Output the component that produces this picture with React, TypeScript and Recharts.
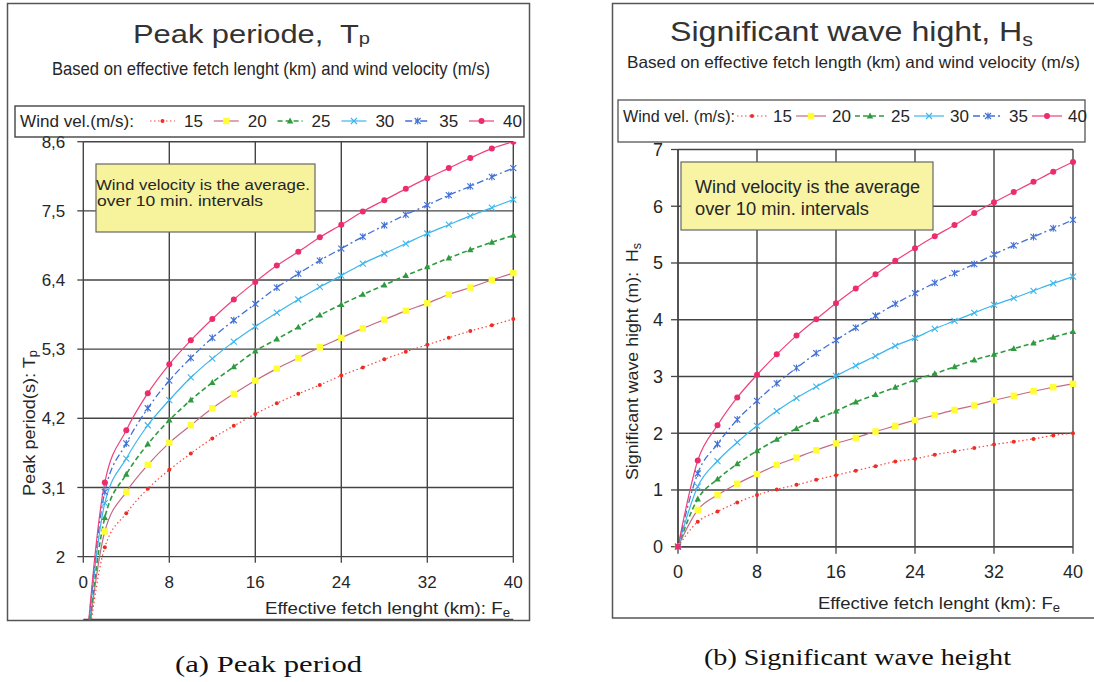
import React from "react";
import { CartesianGrid, Line, LineChart, ReferenceLine, XAxis, YAxis } from "recharts";

// fetch lengths (km) where the curves are sampled, and the wind velocities (m/s)
const FETCH_KM = [0, 2, 4, 6, 8, 10, 12, 14, 16, 18, 20, 22, 24, 26, 28, 30, 32, 34, 36, 38, 40];
const WIND_VELOCITIES = [15, 20, 25, 30, 35, 40];
const FETCH_TICKS = [0, 8, 16, 24, 32, 40];
const PERIOD_TICKS = [2, 3.1, 4.2, 5.3, 6.4, 7.5, 8.6];
const HEIGHT_TICKS = [0, 1, 2, 3, 4, 5, 6, 7];

// peak period Tp (s)
const periodU15 = [0, 2.15, 2.69, 3.08, 3.38, 3.64, 3.88, 4.08, 4.27, 4.44, 4.59, 4.73, 4.88, 5.01, 5.14, 5.26, 5.37, 5.48, 5.59, 5.68, 5.78];
const periodU20 = [0, 2.4, 3.03, 3.46, 3.81, 4.09, 4.36, 4.59, 4.8, 4.99, 5.16, 5.33, 5.48, 5.63, 5.77, 5.91, 6.03, 6.17, 6.28, 6.4, 6.51];
const periodU25 = [0, 2.62, 3.31, 3.79, 4.17, 4.49, 4.77, 5.02, 5.27, 5.46, 5.65, 5.84, 6.01, 6.17, 6.32, 6.47, 6.61, 6.75, 6.88, 7.0, 7.11];
const periodU30 = [0, 2.85, 3.56, 4.09, 4.49, 4.85, 5.15, 5.42, 5.66, 5.88, 6.09, 6.29, 6.47, 6.66, 6.82, 6.98, 7.14, 7.28, 7.42, 7.55, 7.68];
const periodU35 = [0, 3.03, 3.8, 4.36, 4.8, 5.16, 5.48, 5.76, 6.02, 6.28, 6.5, 6.71, 6.9, 7.09, 7.27, 7.44, 7.59, 7.75, 7.89, 8.04, 8.18];
const periodU40 = [0, 3.18, 4.01, 4.6, 5.06, 5.44, 5.78, 6.09, 6.37, 6.63, 6.85, 7.08, 7.28, 7.49, 7.67, 7.85, 8.02, 8.18, 8.34, 8.49, 8.6];

// significant wave height Hs (m)
const heightU15 = [0, 0.44, 0.62, 0.78, 0.91, 1.01, 1.09, 1.18, 1.26, 1.34, 1.42, 1.5, 1.55, 1.62, 1.68, 1.74, 1.8, 1.85, 1.9, 1.96, 2.0];
const heightU20 = [0, 0.65, 0.91, 1.11, 1.28, 1.44, 1.57, 1.7, 1.82, 1.92, 2.03, 2.13, 2.23, 2.32, 2.41, 2.49, 2.58, 2.66, 2.74, 2.81, 2.87];
const heightU25 = [0, 0.84, 1.19, 1.46, 1.69, 1.89, 2.08, 2.24, 2.39, 2.55, 2.68, 2.81, 2.94, 3.05, 3.17, 3.29, 3.39, 3.49, 3.59, 3.69, 3.79];
const heightU30 = [0, 1.06, 1.51, 1.84, 2.13, 2.39, 2.62, 2.82, 3.01, 3.19, 3.36, 3.54, 3.68, 3.84, 3.98, 4.12, 4.26, 4.38, 4.51, 4.64, 4.76];
const heightU35 = [0, 1.29, 1.81, 2.24, 2.57, 2.88, 3.15, 3.41, 3.64, 3.86, 4.07, 4.28, 4.47, 4.65, 4.82, 4.98, 5.15, 5.31, 5.46, 5.61, 5.76];
const heightU40 = [0, 1.52, 2.14, 2.63, 3.03, 3.39, 3.72, 4.01, 4.29, 4.55, 4.8, 5.04, 5.26, 5.47, 5.67, 5.88, 6.07, 6.25, 6.43, 6.61, 6.78];

const PERIOD_SERIES = [periodU15, periodU20, periodU25, periodU30, periodU35, periodU40];
const HEIGHT_SERIES = [heightU15, heightU20, heightU25, heightU30, heightU35, heightU40];

const FONT = "'Liberation Sans', Arial, Helvetica, sans-serif";
const SERIF = "'Liberation Serif', 'Times New Roman', serif";
const INK = "#262626";
const GRID = "#444";

type MarkerKind = "dot" | "square" | "triangle" | "cross" | "star" | "circle";

type SeriesStyle = { line: string; dash?: string; width: number; marker: MarkerKind; markerColor: string };

// one entry per wind velocity, same order as WIND_VELOCITIES
const SERIES_STYLE: SeriesStyle[] = [
  { line: "#f4473f", dash: "1.5 2.5", width: 1.2, marker: "dot", markerColor: "#ee2d25" },
  { line: "#c46a86", width: 1.2, marker: "square", markerColor: "#ffff33" },
  { line: "#2f9a40", dash: "5 3", width: 1.6, marker: "triangle", markerColor: "#2f9a40" },
  { line: "#3cb5ec", width: 1.2, marker: "cross", markerColor: "#3cb5ec" },
  { line: "#4270d6", dash: "7 3 2 3", width: 1.3, marker: "star", markerColor: "#4270d6" },
  { line: "#ee417c", width: 1.2, marker: "circle", markerColor: "#ec2d6c" },
];

const buildRows = (series: number[][]) =>
  FETCH_KM.map((km, i) => {
    const row: Record<string, number> = { fetch: km };
    WIND_VELOCITIES.forEach((u, s) => {
      row[`u${u}`] = series[s][i];
    });
    return row;
  });

const periodRows = buildRows(PERIOD_SERIES);
const heightRows = buildRows(HEIGHT_SERIES);

const commaDecimal = (v: number) => (Number.isInteger(v) ? String(v) : v.toFixed(1).replace(".", ","));

function Marker({ kind, cx, cy, color }: { kind: MarkerKind; cx: number; cy: number; color: string }) {
  switch (kind) {
    case "dot":
      return <circle cx={cx} cy={cy} r={2} fill={color} />;
    case "square":
      return <rect x={cx - 3.2} y={cy - 3.2} width={6.4} height={6.4} fill={color} />;
    case "triangle":
      return <path d={`M${cx},${cy - 3.5}L${cx + 3.2},${cy + 2.4}L${cx - 3.2},${cy + 2.4}Z`} fill={color} />;
    case "cross":
      return <path d={`M${cx - 3},${cy - 3}L${cx + 3},${cy + 3}M${cx - 3},${cy + 3}L${cx + 3},${cy - 3}`} stroke={color} strokeWidth={1.1} />;
    case "star":
      return (
        <path
          d={`M${cx - 3},${cy - 3}L${cx + 3},${cy + 3}M${cx - 3},${cy + 3}L${cx + 3},${cy - 3}M${cx},${cy - 3.5}L${cx},${cy + 3.5}`}
          stroke={color}
          strokeWidth={1.1}
        />
      );
    default:
      return <circle cx={cx} cy={cy} r={3} fill={color} />;
  }
}

const dotRenderer = (style: SeriesStyle, id: string) => (p: any) => {
  const key = `${id}-${p.index}`;
  if (p.cx == null || p.cy == null || Number.isNaN(p.cx) || Number.isNaN(p.cy)) {
    return <g key={key} />;
  }
  return (
    <g key={key}>
      <Marker kind={style.marker} cx={p.cx} cy={p.cy} color={style.markerColor} />
    </g>
  );
};

const renderLines = (prefix: string) =>
  WIND_VELOCITIES.map((u, s) => {
    const st = SERIES_STYLE[s];
    return (
      <Line
        key={`${prefix}${u}`}
        type="monotone"
        dataKey={`u${u}`}
        stroke={st.line}
        strokeWidth={st.width}
        strokeDasharray={st.dash}
        dot={dotRenderer(st, `${prefix}${u}`)}
        activeDot={false}
        isAnimationActive={false}
      />
    );
  });

// left chart: the plot runs below Tp = 2 so the curves can hang out of the axis like the scan
const PERIOD_DOMAIN: [number, number] = [1, 8.6];
const PERIOD_TOP = 141.7;
const PERIOD_BOTTOM = 619.5;
const PERIOD_AXIS_DROP = ((PERIOD_BOTTOM - PERIOD_TOP) / (PERIOD_DOMAIN[1] - PERIOD_DOMAIN[0])) * (PERIOD_TICKS[0] - PERIOD_DOMAIN[0]);

function PeriodXTick({ x, y, payload }: any) {
  const axisY = y - PERIOD_AXIS_DROP;
  return (
    <g>
      <line x1={x} x2={x} y1={axisY} y2={axisY + 6} stroke={GRID} strokeWidth={1.3} />
      <text x={x} y={axisY + 31} textAnchor="middle" fontSize={17} fill={INK} fontFamily={FONT}>
        {payload.value}
      </text>
    </g>
  );
}

function PeakPeriodChart() {
  const [low, high] = [PERIOD_TICKS[0], PERIOD_TICKS[PERIOD_TICKS.length - 1]];
  return (
    <LineChart
      width={540}
      height={640}
      data={periodRows}
      margin={{ top: PERIOD_TOP, right: 26.7, bottom: 640 - PERIOD_BOTTOM - 20, left: 23.3 }}
    >
      <CartesianGrid vertical={false} stroke={GRID} strokeWidth={1.4} />
      {FETCH_TICKS.map((t) => (
        <ReferenceLine
          key={`v${t}`}
          segment={[
            { x: t, y: low },
            { x: t, y: high },
          ]}
          stroke={GRID}
          strokeWidth={1.4}
        />
      ))}
      <XAxis
        dataKey="fetch"
        type="number"
        domain={[0, 40]}
        ticks={FETCH_TICKS}
        interval={0}
        axisLine={false}
        tickLine={false}
        tickSize={0}
        tickMargin={0}
        height={20}
        tick={(p: any) => <PeriodXTick {...p} />}
      />
      <YAxis
        type="number"
        domain={PERIOD_DOMAIN}
        allowDataOverflow
        ticks={PERIOD_TICKS}
        interval={0}
        tickFormatter={commaDecimal}
        width={60}
        axisLine={false}
        tickLine={{ stroke: GRID, strokeWidth: 1.3 }}
        tickSize={6}
        tickMargin={12}
        tick={{ fontSize: 17, fill: INK, fontFamily: FONT }}
      />
      {renderLines("tp")}
    </LineChart>
  );
}

function WaveHeightChart() {
  return (
    <LineChart width={494} height={640} data={heightRows} margin={{ top: 149.5, right: 21, bottom: 63.3, left: 28 }}>
      <CartesianGrid stroke={GRID} strokeWidth={1.4} />
      <XAxis
        dataKey="fetch"
        type="number"
        domain={[0, 40]}
        ticks={FETCH_TICKS}
        interval={0}
        height={30}
        axisLine={{ stroke: GRID, strokeWidth: 1.4 }}
        tickLine={{ stroke: GRID, strokeWidth: 1.3 }}
        tickSize={7}
        tickMargin={12}
        tick={{ fontSize: 18, fill: INK, fontFamily: FONT }}
      />
      <YAxis
        type="number"
        domain={[0, 7]}
        ticks={HEIGHT_TICKS}
        interval={0}
        width={50}
        axisLine={{ stroke: GRID, strokeWidth: 1.4 }}
        tickLine={{ stroke: GRID, strokeWidth: 1.3 }}
        tickSize={7}
        tickMargin={8}
        tick={{ fontSize: 18, fill: INK, fontFamily: FONT }}
      />
      {renderLines("hs")}
    </LineChart>
  );
}

function LegendRow({ x, y, caption, captionWidth, startX, step, swatch, gap, fontSize }: any) {
  return (
    <g fontFamily={FONT} fill={INK}>
      <text x={x} y={y + 6} fontSize={fontSize} textLength={captionWidth} lengthAdjust="spacingAndGlyphs">
        {caption}
      </text>
      {WIND_VELOCITIES.map((u, s) => {
        const st = SERIES_STYLE[s];
        const sx = startX + s * step;
        return (
          <g key={u}>
            <line x1={sx} x2={sx + swatch} y1={y} y2={y} stroke={st.line} strokeWidth={st.width} strokeDasharray={st.dash} />
            <Marker kind={st.marker} cx={sx + swatch / 2} cy={y} color={st.markerColor} />
            <text x={sx + swatch + gap} y={y + 6} fontSize={17}>
              {u}
            </text>
          </g>
        );
      })}
    </g>
  );
}

function Decorations() {
  const pre = { whiteSpace: "pre" as const };
  return (
    <svg width={1094} height={682} style={{ position: "absolute", left: 0, top: 0, pointerEvents: "none" }}>
      {/* panel frames */}
      <rect x={7.5} y={3.5} width={522} height={617} fill="none" stroke="#555" strokeWidth={1.5} />
      <rect x={612.5} y={3.5} width={495} height={614.5} fill="none" stroke="#555" strokeWidth={1.5} />

      {/* left panel texts */}
      <text x={133} y={43} fontSize={26} fontFamily={FONT} fill="#333" textLength={237} lengthAdjust="spacingAndGlyphs" style={pre}>
        Peak periode,  T<tspan fontSize={17} dy={1}>p</tspan>
      </text>
      <text x={52} y={75} fontSize={19} fontFamily={FONT} fill={INK} textLength={438} lengthAdjust="spacingAndGlyphs">
        Based on effective fetch lenght (km) and wind velocity (m/s)
      </text>
      <rect x={15} y={106} width={509} height={31} fill="none" stroke="#444" strokeWidth={1.4} />
      <LegendRow x={20} y={121} caption="Wind vel.(m/s):" captionWidth={114} startX={150} step={63.8} swatch={25} gap={9} fontSize={17} />

      <rect x={96} y={164} width={219} height={68} fill="#f7f29c" stroke="#666" strokeWidth={1.2} />
      <text x={96} y={190} fontSize={15.5} fontFamily={FONT} fill={INK} textLength={214} lengthAdjust="spacingAndGlyphs">
        Wind velocity is the average.
      </text>
      <text x={97} y={206} fontSize={15.5} fontFamily={FONT} fill={INK} textLength={166} lengthAdjust="spacingAndGlyphs">
        over 10 min. intervals
      </text>

      <text
        transform="translate(35,496) rotate(-90)"
        fontSize={17}
        fontFamily={FONT}
        fill={INK}
        textLength={146}
        lengthAdjust="spacingAndGlyphs"
      >
        Peak period(s): T<tspan fontSize={12} dy={2}>p</tspan>
      </text>
      <text x={265} y={614} fontSize={17} fontFamily={FONT} fill={INK} textLength={245} lengthAdjust="spacingAndGlyphs">
        Effective fetch lenght (km): F<tspan fontSize={12} dy={3}>e</tspan>
      </text>

      {/* right panel texts */}
      <text x={670} y={41} fontSize={27} fontFamily={FONT} fill="#333" textLength={363} lengthAdjust="spacingAndGlyphs">
        Significant wave hight, H<tspan fontSize={18} dy={5}>s</tspan>
      </text>
      <text x={627} y={68} fontSize={16.5} fontFamily={FONT} fill={INK} textLength={453} lengthAdjust="spacingAndGlyphs">
        Based on effective fetch length (km) and wind velocity (m/s)
      </text>
      <rect x={618} y={100} width={467} height={42} fill="none" stroke="#555" strokeWidth={1.3} />
      <LegendRow x={623} y={116} caption="Wind vel. (m/s):" captionWidth={112} startX={737} step={59} swatch={30} gap={6} fontSize={16} />

      <rect x={681} y={162} width={252} height={68} fill="#f8f4a4" stroke="#666" strokeWidth={1.2} />
      <text x={695} y={193} fontSize={18} fontFamily={FONT} fill={INK} textLength={225} lengthAdjust="spacingAndGlyphs">
        Wind velocity is the average
      </text>
      <text x={695} y={215} fontSize={18} fontFamily={FONT} fill={INK} textLength={174} lengthAdjust="spacingAndGlyphs">
        over 10 min. intervals
      </text>

      <text
        transform="translate(638,480) rotate(-90)"
        fontSize={17}
        fontFamily={FONT}
        fill={INK}
        textLength={237}
        lengthAdjust="spacingAndGlyphs"
        style={pre}
      >
        Significant wave hight (m):  H<tspan fontSize={12} dy={3}>s</tspan>
      </text>
      <text x={818} y={609} fontSize={17} fontFamily={FONT} fill={INK} textLength={242} lengthAdjust="spacingAndGlyphs">
        Effective fetch lenght (km): F<tspan fontSize={12} dy={3}>e</tspan>
      </text>

      {/* sub-figure captions */}
      <text x={175} y={672} fontSize={23} fontFamily={SERIF} fill="#111" textLength={187} lengthAdjust="spacingAndGlyphs">
        (a) Peak period
      </text>
      <text x={704} y={665} fontSize={23} fontFamily={SERIF} fill="#111" textLength={307} lengthAdjust="spacingAndGlyphs">
        (b) Significant wave height
      </text>
    </svg>
  );
}

export default function App() {
  return (
    <div style={{ position: "absolute", left: 0, top: 0, width: 1094, height: 682, background: "#fff", overflow: "hidden" }}>
      <div style={{ position: "absolute", left: 0, top: 0 }}>
        <PeakPeriodChart />
      </div>
      <div style={{ position: "absolute", left: 600, top: 0 }}>
        <WaveHeightChart />
      </div>
      <Decorations />
    </div>
  );
}
